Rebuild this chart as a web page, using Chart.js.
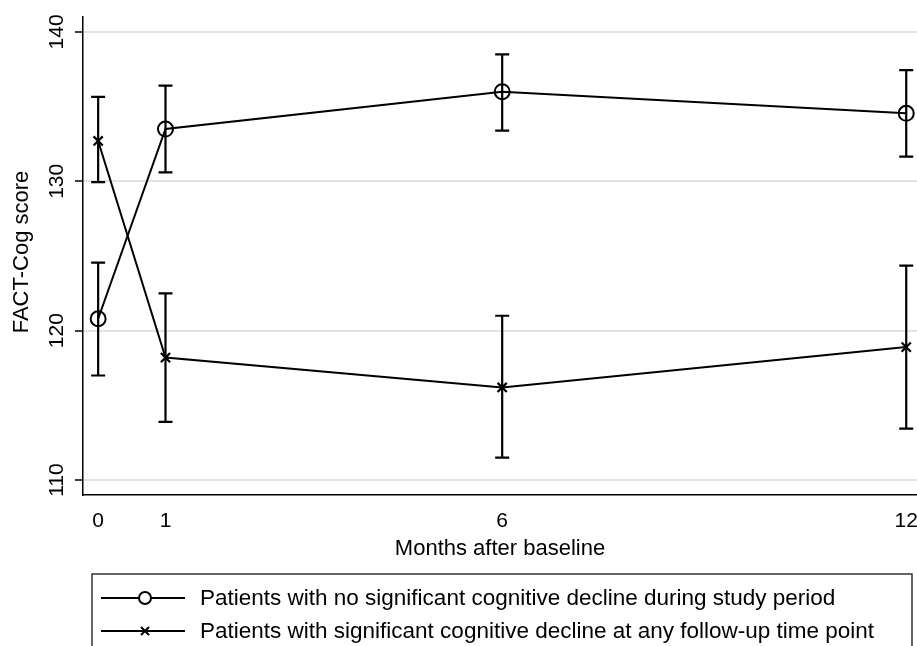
<!DOCTYPE html>
<html>
<head>
<meta charset="utf-8">
<script src="https://cdn.jsdelivr.net/npm/chart.js@4.4.1/dist/chart.umd.min.js"></script>
<style>
html,body{margin:0;padding:0;background:#fff;}
#wrap{position:relative;width:917px;height:646px;}
</style>
</head>
<body>
<div id="wrap"><canvas id="c" width="917" height="646"></canvas></div>
<script>
const months = [0, 1, 6, 12];
const xTicks = [0, 1, 6, 12];
const yTicks = [110, 120, 130, 140];
const labelA = "Patients with no significant cognitive decline during study period";
const labelB = "Patients with significant cognitive decline at any follow-up time point";
const meanA = [120.8, 133.5, 136.0, 134.55];
const lowA  = [117.0, 130.6, 133.4, 131.65];
const highA = [124.55, 136.4, 138.5, 137.45];
const meanB = [132.7, 118.2, 116.2, 118.9];
const lowB  = [129.95, 113.9, 111.5, 113.45];
const highB = [135.65, 122.5, 121.0, 124.35];

const FONT = "'Liberation Sans', Arial, Helvetica, sans-serif";

const errorBars = {
  id: 'errorBars',
  afterDatasetsDraw(chart) {
    const ctx = chart.ctx, xs = chart.scales.x, ys = chart.scales.y;
    const sets = [[lowA, highA], [lowB, highB]];
    ctx.save();
    ctx.strokeStyle = '#000';
    ctx.lineWidth = 2.2;
    sets.forEach(([lo, hi]) => {
      months.forEach((m, i) => {
        const px = xs.getPixelForValue(m);
        const y1 = ys.getPixelForValue(lo[i]);
        const y2 = ys.getPixelForValue(hi[i]);
        ctx.beginPath();
        ctx.moveTo(px, y1); ctx.lineTo(px, y2);
        ctx.moveTo(px - 7, y1); ctx.lineTo(px + 7, y1);
        ctx.moveTo(px - 7, y2); ctx.lineTo(px + 7, y2);
        ctx.stroke();
      });
    });
    ctx.restore();
  }
};

const decorations = {
  id: 'decorations',
  afterDraw(chart) {
    const ctx = chart.ctx, xs = chart.scales.x, ys = chart.scales.y;
    const area = chart.chartArea;
    ctx.save();
    ctx.fillStyle = '#000';
    ctx.strokeStyle = '#000';
    // rotated y tick labels
    ctx.font = "21px " + FONT;
    ctx.textAlign = 'center';
    ctx.textBaseline = 'middle';
    yTicks.forEach(v => {
      const py = ys.getPixelForValue(v);
      ctx.save();
      ctx.translate(57, py);
      ctx.rotate(-Math.PI / 2);
      ctx.fillText(String(v), 0, 0);
      ctx.restore();
    });
    // y title
    ctx.font = "22px " + FONT;
    ctx.save();
    ctx.translate(22, 252);
    ctx.rotate(-Math.PI / 2);
    ctx.fillText("FACT-Cog score", 0, 0);
    ctx.restore();
    // x title
    ctx.fillText("Months after baseline", (area.left + area.right) / 2, 549);
    // legend box
    ctx.lineWidth = 1.5;
    ctx.strokeStyle = '#333';
    ctx.strokeRect(92, 574, 820, 90);
    ctx.strokeStyle = '#000';
    ctx.lineWidth = 2;
    const rows = [[labelA, 598, 'circle'], [labelB, 631, 'cross']];
    ctx.font = "22.5px " + FONT;
    ctx.textAlign = 'left';
    rows.forEach(([txt, y, mk]) => {
      ctx.beginPath();
      ctx.moveTo(101, y); ctx.lineTo(185, y);
      ctx.stroke();
      if (mk === 'circle') {
        ctx.fillStyle = '#fff';
        ctx.beginPath(); ctx.arc(145, y, 6, 0, Math.PI * 2); ctx.fill(); ctx.stroke();
        ctx.fillStyle = '#000';
      } else {
        ctx.beginPath();
        ctx.moveTo(141, y - 4); ctx.lineTo(149, y + 4);
        ctx.moveTo(149, y - 4); ctx.lineTo(141, y + 4);
        ctx.stroke();
      }
      ctx.fillText(txt, 200, y + 1);
    });
    ctx.restore();
  }
};

new Chart(document.getElementById('c'), {
  type: 'line',
  data: {
    datasets: [
      {
        label: labelA,
        data: months.map((m, i) => ({x: m, y: meanA[i]})),
        borderColor: '#000', borderWidth: 2,
        pointStyle: 'circle', pointRadius: 7.5, pointBorderWidth: 2,
        pointBackgroundColor: 'rgba(0,0,0,0)', pointBorderColor: '#000',
        tension: 0, fill: false
      },
      {
        label: labelB,
        data: months.map((m, i) => ({x: m, y: meanB[i]})),
        borderColor: '#000', borderWidth: 2,
        pointStyle: 'crossRot', pointRadius: 6.5, pointBorderWidth: 2.2,
        pointBorderColor: '#000',
        tension: 0, fill: false
      }
    ]
  },
  options: {
    responsive: false,
    animation: false,
    clip: false,
    layout: { autoPadding: false, padding: { top: 17, right: 0, left: 0, bottom: 0 } },
    plugins: { legend: { display: false }, tooltip: { enabled: false } },
    scales: {
      x: {
        type: 'linear', min: -0.225, max: 12.16,
        afterBuildTicks(s) { s.ticks = xTicks.map(v => ({value: v})); },
        afterFit(s) { s.height = 151; s.paddingLeft = 0; s.paddingRight = 0; },
        grid: { display: false, drawOnChartArea: false, tickLength: 10, tickColor: '#000', tickWidth: 1.5 },
        border: { color: '#000', width: 1.5 },
        ticks: { color: '#000', font: { size: 21, family: FONT }, padding: 4, maxRotation: 0, autoSkip: false }
      },
      y: {
        type: 'linear', min: 109, max: 141,
        afterBuildTicks(s) { s.ticks = yTicks.map(v => ({value: v})); },
        afterFit(s) { s.width = 83; s.paddingTop = 0; s.paddingBottom = 0; },
        grid: { color: '#e3e3e3', lineWidth: 2, tickLength: 8, tickColor: '#000', tickWidth: 1.5 },
        border: { color: '#000', width: 1.5 },
        ticks: { display: true, color: 'rgba(0,0,0,0)', font: { size: 12, family: FONT } }
      }
    }
  },
  plugins: [errorBars, decorations]
});
</script>
</body>
</html>
